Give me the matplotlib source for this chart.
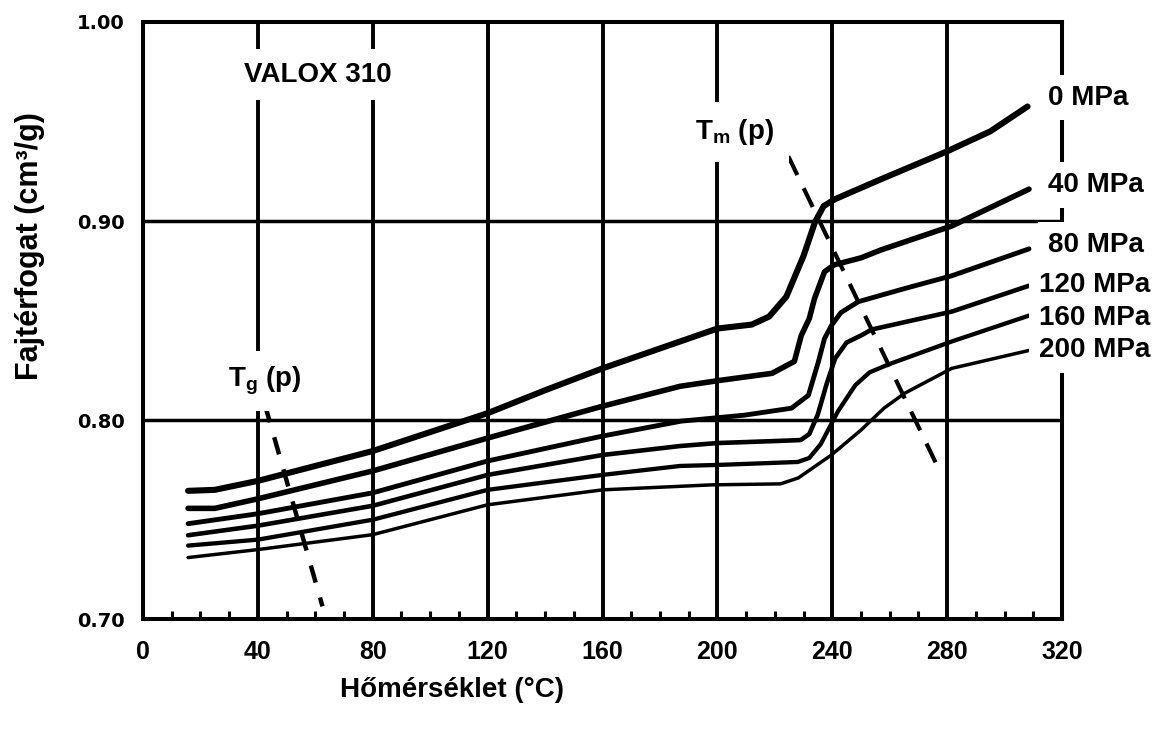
import numpy as np
import matplotlib
matplotlib.use("Agg")
import matplotlib.pyplot as plt

plt.rcParams["font.family"] = ["Liberation Sans", "DejaVu Sans"]
plt.rcParams["mathtext.fontset"] = "custom"
plt.rcParams["mathtext.rm"] = "Liberation Sans:bold"

# specific volume vs. temperature
t0 = [15.7, 25, 40, 60, 80, 100, 120, 140, 160, 180, 200, 212, 218, 224, 230, 234, 237, 241, 257, 280, 295, 308]
v0 = [0.7645, 0.765, 0.7695, 0.777, 0.7845, 0.794, 0.8035, 0.815, 0.826, 0.836, 0.846, 0.848, 0.852, 0.862,
      0.8825, 0.8995, 0.9075, 0.911, 0.921, 0.935, 0.945, 0.9575]

t40 = [15.7, 25, 40, 80, 120, 160, 187, 201, 219, 226.8, 229.2, 232, 233.8, 237.3, 240.7, 250, 257, 281.6, 308.5]
v40 = [0.7557, 0.7557, 0.7605, 0.7745, 0.791, 0.807, 0.817, 0.820, 0.8235, 0.8295, 0.8425, 0.851,
       0.861, 0.8745, 0.878, 0.8815, 0.8855, 0.8975, 0.916]

t80 = [15.7, 40, 80, 120, 160, 187.4, 209.4, 225.8, 231.7, 235.2, 237.3, 239.7, 243, 249.1, 265, 281.6, 308.5]
v80 = [0.748, 0.753, 0.7635, 0.7795, 0.792, 0.7995, 0.8025, 0.806, 0.8125, 0.8295, 0.841, 0.8475,
       0.854, 0.8595, 0.866, 0.8725, 0.886]

t120 = [15.7, 40, 80, 120, 160, 187, 200, 220, 229, 232, 235, 238, 241, 245, 250, 253.7, 281.6, 308.5]
v120 = [0.7422, 0.747, 0.757, 0.7725, 0.7825, 0.787, 0.7885, 0.7895, 0.790, 0.793, 0.803, 0.818, 0.831,
        0.839, 0.8425, 0.8455, 0.8545, 0.8675]

t160 = [15.7, 40, 80, 120, 160, 187, 200, 228, 232, 236, 240, 242, 248, 253, 259.6, 281.6, 308.5]
v160 = [0.737, 0.740, 0.750, 0.765, 0.7725, 0.777, 0.7775, 0.779, 0.781, 0.788, 0.799, 0.8045,
        0.8175, 0.824, 0.828, 0.8395, 0.8525]

t200 = [15.7, 40, 80, 120, 160, 198, 222, 228.2, 239.7, 250, 258, 265.2, 281.6, 308.5]
v200 = [0.731, 0.735, 0.7425, 0.7575, 0.765, 0.7675, 0.768, 0.771, 0.7825, 0.795, 0.806, 0.8135,
        0.826, 0.835]

pressures = ["0 MPa", "40 MPa", "80 MPa", "120 MPa", "160 MPa", "200 MPa"]
label_y = [0.962, 0.918, 0.888, 0.868, 0.8515, 0.835]

xticks = [0, 40, 80, 120, 160, 200, 240, 280, 320]
yticks = [0.70, 0.80, 0.90, 1.00]

# glass transition / melting lines
tg_t = [42.5, 62.5]
tg_v = [0.8075, 0.7065]
tm_t = [224.7, 277.4]
tm_v = [0.9325, 0.7745]

fig = plt.figure(figsize=(11.55, 7.29), dpi=100)
ax = fig.add_axes([0.1238, 0.1505, 0.7957, 0.8195])

curves = [(t0, v0), (t40, v40), (t80, v80), (t120, v120), (t160, v160), (t200, v200)]
widths = [4.4, 4.0, 3.5, 3.3, 3.1, 2.5]
for (t, v), lw in zip(curves, widths):
    ax.plot(t, v, color="black", lw=lw, solid_capstyle="round", solid_joinstyle="round", zorder=3)

ax.plot(tg_t, tg_v, color="black", lw=3.2, dashes=(4, 3.5), zorder=3)
ax.plot(tm_t, tm_v, color="black", lw=3.0, dashes=(5, 3.5), zorder=3)

ax.set_xlim(0, 320)
ax.set_ylim(0.70, 1.00)

ax.set_xticks(xticks, [str(x) for x in xticks], fontsize=18, fontweight="bold")
ax.set_xticks(range(10, 320, 10), minor=True)
ax.set_yticks(yticks, ["%.2f" % y for y in yticks], fontsize=14, fontweight="bold",
              family="DejaVu Sans")

for x in xticks[1:-1]:
    ax.axvline(x, color="black", lw=2.8, zorder=1)
for y in yticks[1:-1]:
    ax.axhline(y, color="black", lw=2.5, zorder=1)

ax.tick_params(axis="x", which="major", length=0, pad=15)
ax.tick_params(axis="x", which="minor", direction="in", length=6, width=2.2, top=False)
ax.tick_params(axis="y", which="both", length=0, pad=13)

for s in ax.spines.values():
    s.set_linewidth(2.9)
    s.set_zorder(2)

box = dict(facecolor="white", edgecolor="none", boxstyle="square,pad=0.35")
ax.text(61, 0.9735, "VALOX 310", fontsize=20, weight="bold", ha="center", va="center",
        bbox=dict(facecolor="white", edgecolor="none", boxstyle="square,pad=0.45"), zorder=4)
ax.text(206, 0.9447, r"$\mathrm{T_m}$ (p)", fontsize=20, weight="bold", ha="center", va="center",
        bbox=dict(facecolor="white", edgecolor="none", boxstyle="square,pad=0.55"), zorder=4)
ax.text(42.5, 0.8195, r"$\mathrm{T_g}$ (p)", fontsize=20, weight="bold", ha="center", va="center",
        bbox=dict(facecolor="white", edgecolor="none", boxstyle="square,pad=0.5"), zorder=4)

for name, y in zip(pressures, label_y):
    x = 315 if len(name) < 7 else 312
    ax.text(x, y, name, fontsize=20, weight="bold", ha="left", va="center",
            bbox=box, zorder=4, clip_on=False)

fig.text(0.391, 0.053, "Hőmérséklet (°C)", fontsize=20, weight="bold",
         ha="center", va="center")
fig.text(0.026, 0.662, "Fajtérfogat (cm³/g)", fontsize=22, weight="bold",
         ha="center", va="center", rotation=90)

fig.savefig("out.png", dpi=100)
